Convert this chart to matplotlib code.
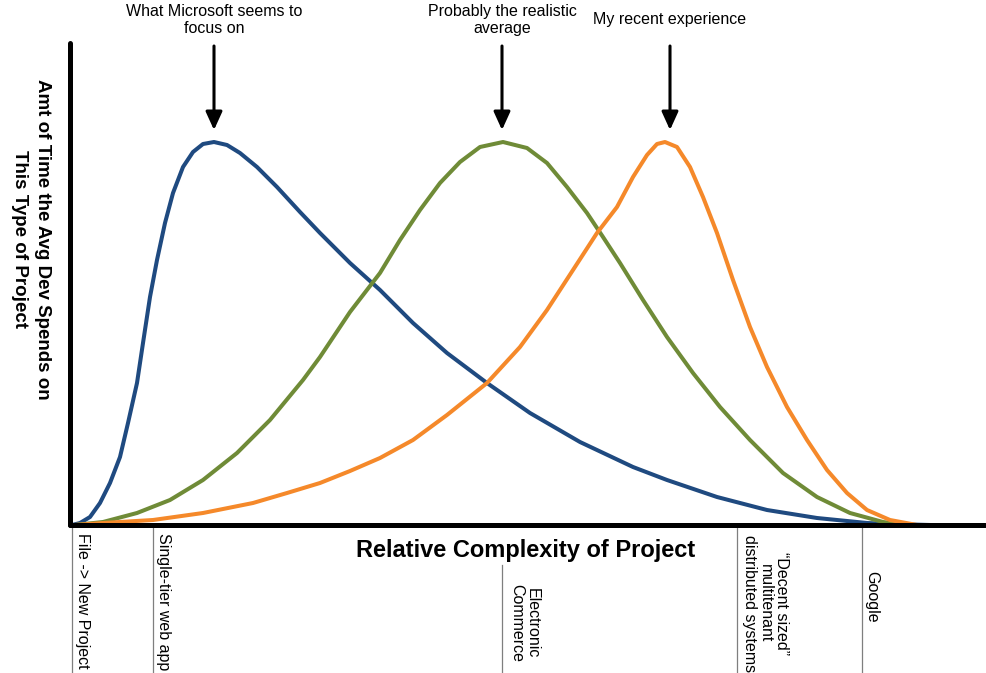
import matplotlib
matplotlib.use("Agg")
import matplotlib.pyplot as plt

plt.rcParams['font.family'] = ['Liberation Sans', 'DejaVu Sans']

# values (x = complexity, y = time spent), arbitrary units
blue_x = [2, 10, 20, 30, 40, 50, 58, 67, 73, 80, 87, 95, 103, 113, 123, 133, 144, 157, 170,
          187, 207, 230, 250, 280, 310, 343, 377, 417, 460, 510, 563, 597, 647, 697, 747,
          797, 823, 860]
blue_y = [0, 2, 8, 22, 42, 68, 102, 142, 182, 228, 265, 302, 332, 358, 373, 381, 383, 380, 372,
          358, 338, 313, 292, 262, 235, 202, 172, 142, 112, 83, 58, 45, 28, 15, 7,
          2, 1, 0]

green_x = [5, 33, 67, 100, 133, 167, 200, 233, 250, 280, 310, 330, 350, 370, 390, 410, 433,
           457, 477, 497, 517, 533, 550, 573, 597, 623, 650, 680, 713, 747, 780, 813, 837]
green_y = [0, 3, 12, 25, 45, 72, 105, 145, 168, 213, 252, 285, 315, 342, 363, 378, 383,
           377, 362, 338, 312, 288, 262, 225, 188, 152, 118, 85, 52, 28, 12, 3, 0]

orange_x = [5, 33, 83, 133, 183, 217, 250, 280, 310, 343, 377, 417, 450, 477, 503, 527, 547,
            563, 577, 587, 595, 607, 620, 633, 647, 663, 680, 697, 717, 737, 757, 777, 797,
            820, 847]
orange_y = [0, 2, 5, 12, 22, 32, 42, 54, 67, 85, 110, 142, 178, 215, 255, 292, 318,
            348, 370, 381, 383, 378, 358, 328, 292, 245, 198, 158, 118, 85, 55, 32, 15,
            5, 0]

categories = ["File -> New Project", "Single-tier web app", "Electronic\nCommerce",
              "\u201cDecent sized\u201d\nmultitenant\ndistributed systems", "Google"]
category_x = [2, 83, 432, 667, 792]

callouts = ["What Microsoft seems to\nfocus on", "Probably the realistic\naverage",
            "My recent experience"]
callout_x = [144, 432, 600]

fig = plt.figure(figsize=(9.86, 6.73), dpi=100)
ax = fig.add_axes([70 / 986, (673 - 525) / 673, 915 / 986, 482 / 673])
ax.set_xlim(0, 915)
ax.set_ylim(0, 482)

lw = 2.9
ax.plot(blue_x, blue_y, color='#1f4a80', lw=lw, solid_joinstyle='round')
ax.plot(green_x, green_y, color='#6f8b37', lw=lw, solid_joinstyle='round')
ax.plot(orange_x, orange_y, color='#f5892a', lw=lw, solid_joinstyle='round')

for s in ['top', 'right']:
    ax.spines[s].set_visible(False)
for s in ['left', 'bottom']:
    ax.spines[s].set_linewidth(3.6)
    ax.spines[s].set_capstyle('round')
ax.set_xticks([])
ax.set_yticks([])

# category markers under the axis
tick_top = [-2, -2, -40, -2, -2]
for x, top in zip(category_x, tick_top):
    ax.plot([x, x], [top, -148], color='#7f7f7f', lw=0.9, clip_on=False)

label_pos = [(5, -8), (86, -8), (439, -59), (672, -10), (794, -46)]
for lab, (x, y) in zip(categories, label_pos):
    ax.text(x, y, lab, rotation=270, ha='left', va='top', fontsize=11.5,
            multialignment='center', linespacing=1.1, clip_on=False)

ax.text(456, -25, "Relative Complexity of Project", ha='center', va='center',
        fontsize=17, fontweight='bold', clip_on=False)
ax.text(-39, 286, "Amt of Time the Avg Dev Spends on\nThis Type of Project", rotation=270,
        ha='center', va='center', fontsize=13.5, fontweight='bold',
        multialignment='center', linespacing=1.4, clip_on=False)

# arrows pointing at the peaks
for lab, x in zip(callouts, callout_x):
    ax.annotate('', xy=(x, 395), xytext=(x, 479),
                arrowprops=dict(arrowstyle='-|>,head_length=0.55,head_width=0.25',
                                lw=2.2, color='black', shrinkA=0, shrinkB=0,
                                mutation_scale=20), annotation_clip=False)
    ax.text(x, 521 if '\n' in lab else 513, lab, ha='center', va='top', fontsize=11.5,
            linespacing=1.2, clip_on=False)

fig.savefig("out.png", dpi=100)
